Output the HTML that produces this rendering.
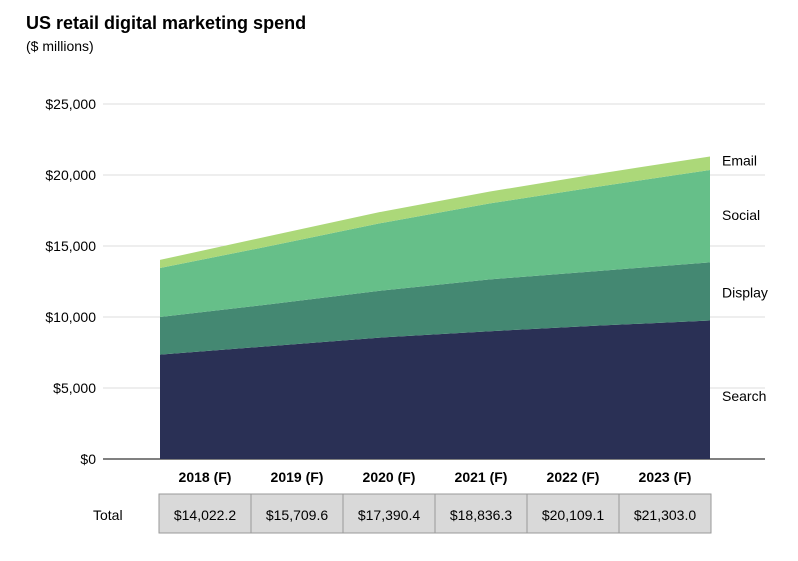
<!DOCTYPE html>
<html><head><meta charset="utf-8"><style>
body{margin:0;background:#fff;font-family:"Liberation Sans",Arial,sans-serif;}
svg text{font-family:"Liberation Sans",Arial,sans-serif;}
</style></head><body>
<svg id="chart" width="798" height="556">
<text x="26" y="29" font-size="18" font-weight="bold" fill="#000">US retail digital marketing spend</text>
<text x="26" y="51" font-size="14" fill="#000">($ millions)</text>
<g id="grid"></g><g id="areas"></g><g id="labels"></g><g id="table"></g>
</svg>
<script>
const years=["2018 (F)","2019 (F)","2020 (F)","2021 (F)","2022 (F)","2023 (F)"];
const search=[7350,7950,8550,9000,9400,9750];
const display=[2650,2950,3300,3650,3850,4100];
const social=[3450,4100,4750,5350,5950,6500];
const email=[572,710,790,836,909,953];
const totals=["$14,022.2","$15,709.6","$17,390.4","$18,836.3","$20,109.1","$21,303.0"];
const yTicks=[0,5000,10000,15000,20000,25000];
const seriesNames=["Search","Display","Social","Email"];
const colors=["#2a3055","#448872","#66bf89","#acd879"];
const NS="http://www.w3.org/2000/svg";
const y=v=>459-v*355/25000;
const x=i=>160+i*110;
function mk(t,a,p){const e=document.createElementNS(NS,t);for(const k in a)e.setAttribute(k,a[k]);p.appendChild(e);return e;}
const grid=document.getElementById('grid');
yTicks.forEach(v=>{
 const l=mk('line',{x1:103,x2:765,y1:y(v),y2:y(v),stroke:v===0?'#000':'#ddd','stroke-width':1},grid);
 
 
 const t=mk('text',{x:96,y:y(v)+5,'text-anchor':'end','font-size':14},grid);
 t.textContent='$'+v.toLocaleString('en-US');
 
 
});
const series=[search,display,social,email];
const areas=document.getElementById('areas');
let base=years.map(()=>0);
const labelY=[];
series.forEach((s,si)=>{
 const top=base.map((b,i)=>b+s[i]);
 let d='M'+top.map((v,i)=>x(i)+','+y(v)).join(' L');
 for(let i=base.length-1;i>=0;i--)d+=' L'+x(i)+','+y(base[i]);
 const p=mk('path',{d:d+'Z',fill:colors[si]},areas);
 
 
 labelY.push((y(top[5])+y(base[5]))/2);
 base=top;
});
const labels=document.getElementById('labels');
const offs=[11,6,4,2];
seriesNames.forEach((n,i)=>{
 const t=mk('text',{x:722,y:labelY[i]+offs[i],'font-size':14},labels);
 t.textContent=n;
 
 
});
const table=document.getElementById('table');
const tl=mk('text',{x:93,y:520,'font-size':14},table);
tl.textContent='Total';


years.forEach((yr,i)=>{
 const cx=205+i*92;
 const t=mk('text',{x:cx,y:482,'text-anchor':'middle','font-size':14,'font-weight':'bold'},table);
 t.textContent=yr;
 
 
 const r=mk('rect',{x:159+i*92,y:494,width:92,height:39,fill:'#d9d9d9',stroke:'#999'},table);
 
 
 const v=mk('text',{x:cx,y:520,'text-anchor':'middle','font-size':14},table);
 v.textContent=totals[i];
 
 
});
</script>
</body></html>
